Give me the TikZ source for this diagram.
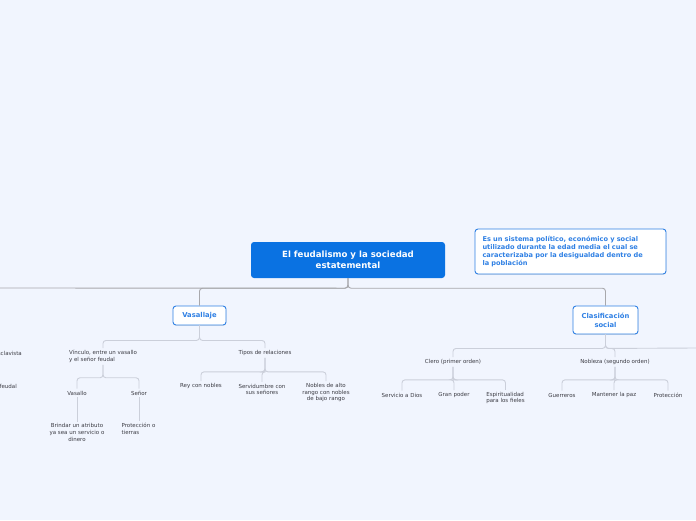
\documentclass[tikz,border=0pt]{standalone}
\usepackage{fontspec}
\setmainfont{DejaVu Sans}
\usepackage{xcolor}
\usepackage{tikz}
\usetikzlibrary{positioning,calc,shadows}

\definecolor{bgblue}{HTML}{F1F5FE}
\definecolor{mainblue}{HTML}{0A72E2}
\definecolor{topicblue}{HTML}{2F80E4}
\definecolor{trunk}{HTML}{A8A8AC}
\definecolor{twig}{HTML}{CBCFDA}
\definecolor{leaftext}{HTML}{3C3C44}

\begin{document}
\begin{tikzpicture}[
  x=1pt, y=-1pt,
  font=\fontsize{5.5}{6.6}\selectfont,
  central/.style={
    fill=mainblue,
    text=white,
    rounded corners=3pt,
    align=center,
    minimum width=194pt,
    minimum height=36pt,
    font=\bfseries\fontsize{8.6}{11}\selectfont
  },
  topic/.style={
    draw=topicblue,
    line width=0.9pt,
    fill=white,
    rounded corners=3pt,
    align=center,
    text=topicblue,
    inner sep=1pt,
    font=\bfseries\fontsize{6.8}{9}\selectfont,
    drop shadow={shadow xshift=0.3pt, shadow yshift=-0.8pt, opacity=0.18}
  },
  note/.style={topic, align=left, text width=176pt, inner xsep=7.5pt,
    minimum height=45pt, font=\bfseries\fontsize{6.6}{8.3}\selectfont},
  leaf/.style={text=leaftext, align=center, inner sep=2pt},
  trunkline/.style={draw=trunk, line width=0.9pt, rounded corners=3pt},
  twigline/.style={draw=twig, line width=0.9pt, rounded corners=3pt}
]
  \fill[bgblue] (0,0) rectangle (696,520);
  \useasboundingbox (0,0) rectangle (696,520);

  % Centre and note
  \node[central] (root) at (348,260) {El feudalismo y la sociedad\\estatemental};
  \node[note] (def) at (570.5,251.5) {Es un sistema político, económico y social\\
    utilizado durante la edad media el cual se\\caracterizaba por la desigualdad
    dentro de\\la población};

  % Main topics
  \node[topic, minimum width=53pt, minimum height=19pt] (vas) at (199.5,315.5) {Vasallaje};
  \node[topic, minimum width=65pt, minimum height=28pt] (clas) at (605.5,320) {Clasificación\\social};
  \coordinate (offleft) at (0,288);

  \draw[trunkline] (root.south) -- ++(0,-10pt) -| (vas.north);
  \draw[trunkline] (root.south) -- ++(0,-10pt) -| (clas.north);
  \draw[trunkline] (root.south) -- ++(0,-10pt) -- (offleft);

  % Branch cut off at the left edge
  \node[leaf, anchor=east] (escl) at (24,353) {esclavista};
  \node[leaf, anchor=east] (feud) at (19,386) {feudal};

  % Vasallaje
  \node[leaf, align=left] (vinc) at (103,356.5) {Vínculo, entre un vasallo\\y el señor feudal};
  \node[leaf] (tipos) at (265,353) {Tipos de relaciones};
  \draw[twigline] (vas.south) -- ++(0,-15pt) -| (vinc.north);
  \draw[twigline] (vas.south) -- ++(0,-15pt) -| (tipos.north);

  \node[leaf] (vasallo) at (77,393) {Vasallo};
  \node[leaf] (senor) at (139,393) {Señor};
  \draw[twigline] (vinc.south) -- ++(0,-13pt) -| (vasallo.north);
  \draw[twigline] (vinc.south) -- ++(0,-13pt) -| (senor.north);

  \node[leaf] (brindar) at (77,432.5) {Brindar un atributo\\ya sea un servicio o\\dinero};
  \node[leaf, align=left] (prot) at (138.5,429) {Protección o\\tierras};
  \draw[twigline] (vasallo.south) -- (brindar.north);
  \draw[twigline] (senor.south) -- (senor.south |- prot.north);

  \node[leaf] (rey) at (201,386) {Rey con nobles};
  \node[leaf] (serv) at (262,389.5) {Servidumbre con\\sus señores};
  \node[leaf] (nobles) at (326,392.5) {Nobles de alto\\rango con nobles\\de bajo rango};
  \draw[twigline] (tipos.south) -- ++(0,-14pt) -| (rey.north);
  \draw[twigline] (tipos.south) -- ++(0,-14pt) -| (serv.north);
  \draw[twigline] (tipos.south) -- ++(0,-14pt) -| (nobles.north);

  % Clasificación social
  \node[leaf] (clero) at (453,362) {Clero (primer orden)};
  \node[leaf] (nobleza) at (615,362) {Nobleza (segundo orden)};
  \coordinate (offright) at (696,348);
  \draw[twigline] (clas.south) -- ++(0,-14pt) -| (clero.north);
  \draw[twigline] (clas.south) -- ++(0,-14pt) -| (nobleza.north);
  \draw[twigline] (clas.south) -- ++(0,-14pt) -- (offright);

  \node[leaf] (dios) at (402,395) {Servicio a Dios};
  \node[leaf] (poder) at (454,395) {Gran poder};
  \node[leaf, align=left] (espi) at (505.5,398) {Espiritualidad\\para los fieles};
  \draw[twigline] (clero.south) -- ++(0,-13pt) -| (dios.north);
  \draw[twigline] (clero.south) -- ++(0,-13pt) -| (poder.north);
  \draw[twigline] (clero.south) -- ++(0,-13pt) -| (espi.north);

  \node[leaf] (guerr) at (562,395) {Guerreros};
  \node[leaf] (paz) at (614,395) {Mantener la paz};
  \node[leaf] (protn) at (668,395) {Protección};
  \draw[twigline] (nobleza.south) -- ++(0,-13pt) -| (guerr.north);
  \draw[twigline] (nobleza.south) -- ++(0,-13pt) -| (paz.north);
  \draw[twigline] (nobleza.south) -- ++(0,-13pt) -| (protn.north);
\end{tikzpicture}
\end{document}
